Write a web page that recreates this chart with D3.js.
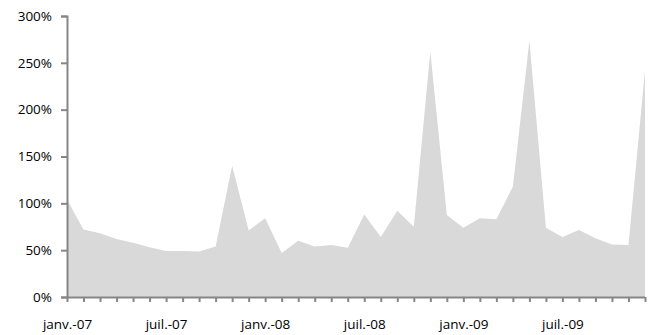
<!DOCTYPE html>
<html>
<head>
<meta charset="utf-8">
<script src="https://cdn.jsdelivr.net/npm/d3@7"></script>
<style>
  html, body { margin: 0; padding: 0; background: #fff; }
  svg text { font-family: "Open Sans", "Noto Sans", sans-serif; fill: #000; }
</style>
</head>
<body>
<svg id="chart" width="651" height="335"></svg>
<script>
// Monthly series, janv.-07 .. déc.-09 (ratio, in %)
const months = d3.range(36).map(i => new Date(2007, i, 1));
const values = [
  104, 72, 68, 62, 58, 53, 49, 49, 48.5, 54,
  140, 71, 84, 47, 60, 54, 55.5, 52.6, 88, 64,
  92, 75, 262, 87.5, 74, 84, 83, 118, 273.5, 74,
  64, 71.5, 62.6, 56, 55.5, 242
];
const yTicks = [0, 50, 100, 150, 200, 250, 300];
const xLabels = ["janv.-07", "juil.-07", "janv.-08", "juil.-08", "janv.-09", "juil.-09"];

const svg = d3.select("#chart");
const plot = { left: 67, right: 645, top: 16, bottom: 297 };

const x = d3.scaleLinear().domain([0, months.length - 1]).range([plot.left, plot.right]);
const y = d3.scaleLinear().domain([0, 300]).range([plot.bottom, plot.top]);

const data = values.map((v, i) => ({ i, v }));

// filled area
const area = d3.area()
  .x(d => x(d.i))
  .y0(y(0))
  .y1(d => y(d.v));

svg.append("path")
  .datum(data)
  .attr("d", area)
  .attr("fill", "#d9d9d9");

const axisColor = "#868686";
const fontSize = "13.5px";

// y axis
const yAxis = svg.append("g")
  .attr("transform", `translate(${plot.left},0)`)
  .call(d3.axisLeft(y).tickValues(yTicks).tickSize(6).tickPadding(9)
    .tickFormat(d => d + "%"));
yAxis.select(".domain").attr("stroke", axisColor).attr("stroke-width", 2);
yAxis.selectAll(".tick line").attr("stroke", axisColor).attr("stroke-width", 2);
yAxis.selectAll("text").style("font-size", fontSize);

// x axis: a tick every month, a label every six months
const xAxis = svg.append("g")
  .attr("transform", `translate(0,${plot.bottom})`)
  .call(d3.axisBottom(x).tickValues(d3.range(months.length)).tickSize(5).tickPadding(17)
    .tickFormat(i => i % 6 === 0 ? xLabels[i / 6] : ""));
xAxis.select(".domain").attr("stroke", axisColor).attr("stroke-width", 2)
  .attr("d", `M${plot.left},0.5H${plot.right}`);
xAxis.selectAll(".tick line").attr("stroke", axisColor).attr("stroke-width", 2);
xAxis.selectAll("text").style("font-size", fontSize);
</script>
</body>
</html>
